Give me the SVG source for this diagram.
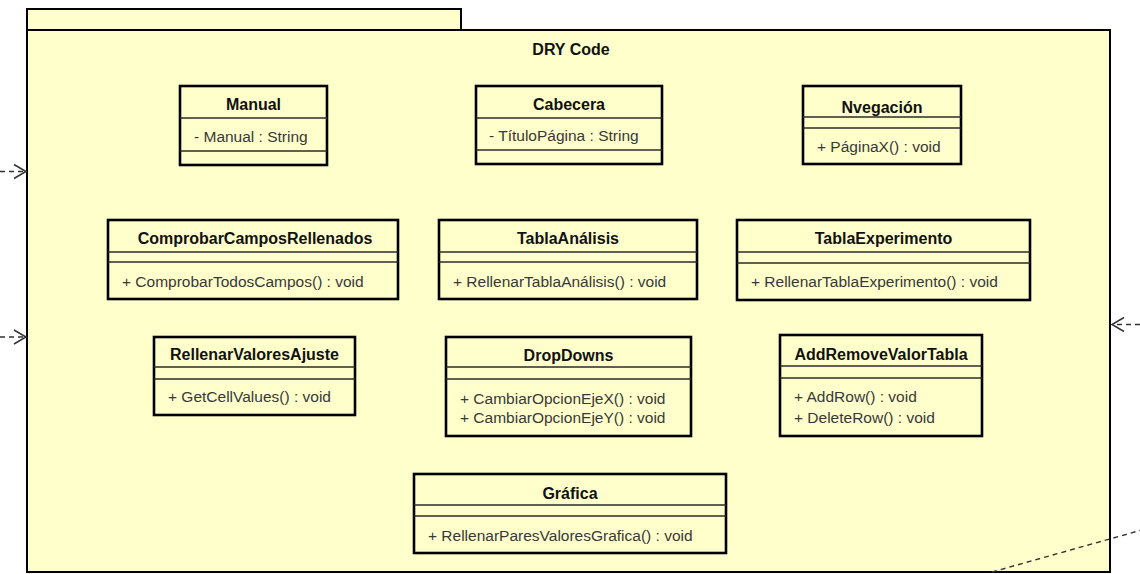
<svg xmlns="http://www.w3.org/2000/svg" width="1140" height="574" viewBox="0 0 1140 574">
  <style>
    .pkg { fill: #FFFFCC; stroke: #000; stroke-width: 2; }
    .box { fill: #FFFFCC; stroke: #000; stroke-width: 2.6; }
    .sep { stroke: #2a2a2a; stroke-width: 1.6; fill: none; }
    .title { font-family: "Liberation Sans", Arial, sans-serif; font-weight: bold; font-size: 16px; fill: #111; text-anchor: middle; }
    .member { font-family: "Liberation Sans", Arial, sans-serif; font-size: 15.5px; fill: #383838; }
    .conn { fill: none; stroke: #333; stroke-width: 1.4; stroke-dasharray: 5 4; }
    .head { fill: none; stroke: #333; stroke-width: 1.5; }
  </style>
  <rect width="1140" height="574" fill="#fff"/>

  <!-- package "DRY Code" -->
  <g id="pkg-dry-code">
    <rect class="pkg" x="27" y="9" width="434" height="21"/>
    <rect class="pkg" x="27" y="30" width="1083" height="542"/>
    <text class="title" x="571" y="55">DRY Code</text>
  </g>

  <g id="cls-manual">
    <rect class="box" x="180" y="86" width="147" height="79"/>
    <line class="sep" x1="180" y1="118" x2="327" y2="118"/>
    <line class="sep" x1="180" y1="151" x2="327" y2="151"/>
    <text class="title" x="253.5" y="110">Manual</text>
    <text class="member" x="194" y="141.5">- Manual : String</text>
  </g>

  <g id="cls-cabecera">
    <rect class="box" x="476" y="86" width="186" height="78"/>
    <line class="sep" x1="476" y1="118" x2="662" y2="118"/>
    <line class="sep" x1="476" y1="150" x2="662" y2="150"/>
    <text class="title" x="569" y="110">Cabecera</text>
    <text class="member" x="489" y="141">- TítuloPágina : String</text>
  </g>

  <g id="cls-nvegacion">
    <rect class="box" x="803" y="86" width="158" height="78"/>
    <line class="sep" x1="803" y1="117" x2="961" y2="117"/>
    <line class="sep" x1="803" y1="128" x2="961" y2="128"/>
    <text class="title" x="882" y="112.5">Nvegación</text>
    <text class="member" x="817" y="152">+ PáginaX() : void</text>
  </g>

  <g id="cls-comprobar-campos">
    <rect class="box" x="108" y="220" width="290" height="79"/>
    <line class="sep" x1="108" y1="252" x2="398" y2="252"/>
    <line class="sep" x1="108" y1="262" x2="398" y2="262"/>
    <text class="title" x="255" y="243.5">ComprobarCamposRellenados</text>
    <text class="member" x="122" y="286.5">+ ComprobarTodosCampos() : void</text>
  </g>

  <g id="cls-tabla-analisis">
    <rect class="box" x="439" y="220" width="258" height="79"/>
    <line class="sep" x1="439" y1="252" x2="697" y2="252"/>
    <line class="sep" x1="439" y1="262" x2="697" y2="262"/>
    <text class="title" x="568" y="243.5">TablaAnálisis</text>
    <text class="member" x="453" y="286.5">+ RellenarTablaAnálisis() : void</text>
  </g>

  <g id="cls-tabla-experimento">
    <rect class="box" x="737" y="220" width="293" height="80"/>
    <line class="sep" x1="737" y1="252" x2="1030" y2="252"/>
    <line class="sep" x1="737" y1="263" x2="1030" y2="263"/>
    <text class="title" x="883.5" y="243.5">TablaExperimento</text>
    <text class="member" x="751" y="287">+ RellenarTablaExperimento() : void</text>
  </g>

  <g id="cls-rellenar-valores-ajuste">
    <rect class="box" x="154" y="337" width="201" height="78"/>
    <line class="sep" x1="154" y1="367" x2="355" y2="367"/>
    <line class="sep" x1="154" y1="379" x2="355" y2="379"/>
    <text class="title" x="254.5" y="360">RellenarValoresAjuste</text>
    <text class="member" x="168" y="402">+ GetCellValues() : void</text>
  </g>

  <g id="cls-dropdowns">
    <rect class="box" x="446" y="337" width="245" height="99"/>
    <line class="sep" x1="446" y1="367" x2="691" y2="367"/>
    <line class="sep" x1="446" y1="379" x2="691" y2="379"/>
    <text class="title" x="568.5" y="360.5">DropDowns</text>
    <text class="member" x="460" y="403.5">+ CambiarOpcionEjeX() : void</text>
    <text class="member" x="460" y="423">+ CambiarOpcionEjeY() : void</text>
  </g>

  <g id="cls-add-remove-valor-tabla">
    <rect class="box" x="780" y="335" width="202" height="101"/>
    <line class="sep" x1="780" y1="366" x2="982" y2="366"/>
    <line class="sep" x1="780" y1="378" x2="982" y2="378"/>
    <text class="title" x="881" y="359.5">AddRemoveValorTabla</text>
    <text class="member" x="794" y="401.5">+ AddRow() : void</text>
    <text class="member" x="794" y="422.5">+ DeleteRow() : void</text>
  </g>

  <g id="cls-grafica">
    <rect class="box" x="414" y="474" width="312" height="79"/>
    <line class="sep" x1="414" y1="505" x2="726" y2="505"/>
    <line class="sep" x1="414" y1="516" x2="726" y2="516"/>
    <text class="title" x="570" y="499">Gráfica</text>
    <text class="member" x="428" y="541">+ RellenarParesValoresGrafica() : void</text>
  </g>

  <!-- dependencies entering / leaving the package -->
  <g id="connectors">
    <line class="conn" x1="0" y1="171.5" x2="25" y2="171.5"/>
    <polyline class="head" points="14,164.5 26,171.5 14,178.5"/>
    <line class="conn" x1="0" y1="337" x2="25" y2="337"/>
    <polyline class="head" points="14,330 26,337 14,344"/>
    <line class="conn" x1="1140" y1="324.5" x2="1113" y2="324.5"/>
    <polyline class="head" points="1124,317.5 1112,324.5 1124,331.5"/>
    <line class="conn" x1="992" y1="572" x2="1140" y2="530.5"/>
  </g>
</svg>
